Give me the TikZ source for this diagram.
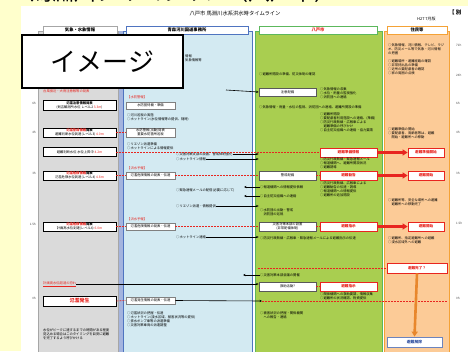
\documentclass[tikz,border=0pt]{standalone}
\usepackage{fontspec}
\setmainfont{Noto Sans CJK JP}
\usetikzlibrary{arrows.meta}
\definecolor{bgyel}{HTML}{FFFFCC}
\definecolor{gfill}{HTML}{DADADA}
\definecolor{gline}{HTML}{A6A6A6}
\definecolor{bfill}{HTML}{D3EAF2}
\definecolor{bline}{HTML}{4F74C0}
\definecolor{bstrip}{HTML}{A4B4DE}
\definecolor{grfill}{HTML}{A9CE50}
\definecolor{grline}{HTML}{5CB85C}
\definecolor{ofill}{HTML}{FCCB97}
\definecolor{oline}{HTML}{F4A236}
\definecolor{myred}{HTML}{E8251F}
\definecolor{myorange}{HTML}{E8872C}
\definecolor{myblue}{HTML}{2F4FA0}
\begin{document}
\begin{tikzpicture}[x=1pt,y=-1pt,
  tx/.style={font=\fontsize{3.3}{3.9}\selectfont, inner sep=0pt, anchor=west, align=left},
  rtx/.style={tx, text=myred},
  wbox/.style={draw=black, line width=0.6pt, fill=white, inner sep=0pt, font=\fontsize{3.3}{3.9}\selectfont, align=center, minimum height=9pt},
  gbox/.style={wbox, minimum width=73pt},
  bbox/.style={wbox, draw=gray, minimum width=49pt, minimum height=7pt},
  grbox/.style={wbox, draw=gray!70!black, line width=0.8pt, minimum width=57pt},
  rbox/.style={wbox, draw=myred, line width=0.8pt, minimum width=57pt, text=myred, font=\fontsize{3.6}{4.2}\selectfont\bfseries},
  headbox/.style={draw, fill=white, line width=0.6pt, inner sep=0pt, minimum height=8pt, font=\fontsize{4.3}{5}\selectfont\bfseries},
  rdash/.style={myred, line width=0.6pt, dash pattern=on 2pt off 1pt},
  barrow/.style={black, line width=0.6pt, -{Stealth[length=2.5pt,width=2.2pt]}},
  bigarrow/.style={myred, line width=2.4pt, -{Triangle[length=5pt,width=6pt]}},
  oarrow/.style={myorange, line width=2.6pt, -{Triangle[length=5pt,width=6pt]}},
  tlabel/.style={font=\fontsize{3}{3.5}\selectfont, text=gray!60!black, inner sep=0pt}
]
\useasboundingbox (0,0) rectangle (468,351);
\fill[bgyel] (0,0) rectangle (468,351);
\fill[white] (21,6) rectangle (468,351);
\begin{scope}
\clip (0,0) rectangle (468,5);
\node[anchor=base west, inner sep=0pt, font=\fontsize{22}{22}\selectfont] (toptitle) at (30,0.5) {馬淵川タイムライン（八戸市）};
\end{scope}

% title
\node[font=\fontsize{5.3}{6}\selectfont, inner sep=0pt] (title) at (235,13) {八戸市 馬淵川水系洪水時タイムライン};
\node[font=\fontsize{4}{5}\selectfont, inner sep=0pt, anchor=west] (ver) at (417,19) {H27 7月版};
\node[font=\fontsize{5.5}{6}\selectfont\bfseries, inner sep=0pt, anchor=west] (bet) at (449,12) {【\ 別};

% columns
\draw[fill=gfill, draw=gline, line width=0.8pt] (38,31) rectangle (118,352);
\fill[bstrip] (119,31) rectangle (123,352);
\draw[fill=bfill, draw=bline, line width=0.8pt] (123,31) rectangle (252,352);
\draw[fill=grfill, draw=grline, line width=0.8pt] (255,31) rectangle (382,352);
\draw[fill=ofill, draw=oline, line width=0.8pt] (384,31) rectangle (449,352);

\node[headbox, draw=gline, minimum width=74pt] (hg) at (80,30) {気象・水象情報};
\node[headbox, draw=bline, minimum width=122pt] (hb) at (187,30) {青森河川国道事務所};
\node[headbox, draw=grline, minimum width=118pt, text=myred] (hgr) at (318,30) {八戸市};
\node[headbox, draw=oline, minimum width=60pt] (ho) at (417,30) {住民等};

% time labels
\foreach \yy/\tt [count=\i] in {103/6h,132/4h,173/3h,224/1.5h,298/0h}
  \node[tlabel, anchor=east] (ll\i) at (36,\yy) {\tt};
\foreach \yy/\tt [count=\i] in {45/72h,75/24h,103/6h,132/4h,173/3h,223/1.5h,298/0h}
  \node[tlabel, anchor=west] (rl\i) at (456,\yy) {\tt};

% ---------- gray column ----------
\node[rtx] (gt1) at (43,91) {台風接近・大雨注意報等の発表};
\node[gbox, minimum height=10pt] (g1) at (79.5,105.5) {\textbf{氾濫注意情報発表}\\(剣吉観測所水位 レベル2 {\color{myred}3.3m})};
\node[gbox] (g2) at (79.5,132.5) {{\color{myred}\textbf{氾濫警戒情報}}\textbf{発表}\\避難判断水位到達(レベル3) {\color{myred}4.0m}};
\node[gbox] (g3) at (79.5,152) {避難判断水位 水位上昇中 {\color{myred}4.2m}};
\node[gbox] (g4) at (79.5,175.5) {{\color{myred}\textbf{氾濫危険情報}}\textbf{発表}\\氾濫危険水位到達(レベル4) {\color{myred}4.8m}};
\node[gbox] (g5) at (79.5,226.5) {{\color{myred}\textbf{氾濫危険情報}}\textbf{発表}\\計画高水位到達(レベル4) {\color{myred}6.0m}};
\node[rtx] (gt2) at (43,284) {\underline{計画高水位超過の恐れ}};
\node[gbox, minimum height=10pt, text=myred, font=\fontsize{5}{6}\selectfont\bfseries] (g6) at (79.5,301) {氾濫発生};
\node[tx] (gt3) at (43,334) {水位がピークに達するまでの時間がある程度\\見込める場合はこのタイミングを目安に避難\\を完了するよう呼びかける};

% ---------- blue column ----------
\node[tx] (bt0) at (185,58) {情報\\気象情報等};
\node[rtx] (bt1) at (127,97) {【水防警報】};
\node[bbox] (b1) at (150.5,105.5) {水防団待機・準備};
\node[tx] (bt2) at (127,117.5) {○河川巡視の実施\\○ホットライン(水位情報等の提供、随時)};
\node[bbox, minimum height=9pt] (b2) at (150.5,132.5) {水防警報(出動)発表\\重要水防箇所巡視};
\node[tx] (bt3) at (127,146.5) {○リエゾン派遣準備\\○ホットラインによる情報提供};
\node[tx] (bt4a) at (176,154) {○災害対策支部の設置、警戒体制強化};
\node[tx] (bt4b) at (176,159) {○ホットライン情報};
\node[rtx] (bt5) at (127,168) {【洪水予報】};
\node[bbox] (b3) at (150.5,175.5) {氾濫危険情報の発表・伝達};
\node[tx] (bt6) at (176,190) {○緊急速報メールの配信(必要に応じて)};
\node[tx] (bt7) at (176,206) {○リエゾン派遣・情報提供};
\node[rtx] (bt8) at (127,219) {【洪水予報】};
\node[bbox] (b4) at (150.5,226.5) {氾濫危険情報の発表・伝達};
\node[tx] (bt9) at (176,237) {○ホットライン連絡};
\node[bbox] (b5) at (150.5,300.5) {氾濫発生情報の発表・伝達};
\node[tx] (bt10) at (127,319) {○氾濫状況の把握・伝達\\○ホットライン(浸水区域、被害状況等の提供)\\○排水ポンプ車等の派遣準備\\○災害対策車両の派遣調整};

% ---------- green column ----------
\node[tx] (gr1) at (259,74) {○避難所開設の準備、防災体制の確認};
\node[grbox, minimum height=8pt] (gb1) at (287.5,92) {注意配備};
\node[tx] (gr2) at (320,93) {○気象情報の収集\\○水位・雨量の監視強化\\○消防団への連絡};
\node[tx] (gr3) at (259,107) {○気象情報・雨量・水位の監視、消防団への連絡、避難所開設の準備};
\node[tx] (gr4) at (320,122) {○避難所開設\\○要配慮者利用施設への連絡、(準備)\\○防災行政無線・広報車による\\\quad 避難準備の呼びかけ\\○自主防災組織への連絡・協力要請};
\node[rbox] (rb1) at (348.5,152.5) {避難準備情報};
\node[tx] (gr5) at (320,163) {○防災行政無線・緊急速報メール\\○報道機関へ、避難所開設状況\\○避難誘導};
\node[grbox] (gb2) at (287.5,175.5) {警戒配備};
\node[rbox] (rb2) at (348.5,175.5) {避難勧告};
\node[tx] (gr6) at (320,189) {○防災行政無線、広報車による\\○避難勧告の伝達・誘導\\○報道機関への情報提供\\○避難所の追加開設};
\node[tx] (gr7) at (260,187) {○報道機関への情報提供依頼};
\node[tx] (gr8) at (260,196) {○自主防災組織への連絡};
\node[tx] (gr9) at (260,212.5) {○水防団の出動・警戒\\\quad 消防団の巡視};
\node[grbox] (gb3) at (287.5,226.5) {災害対策本部の設置\\(非常配備体制)};
\node[rbox] (rb3) at (348.5,226.5) {避難指示};
\node[tx] (gr10) at (260,238) {○防災行政無線・広報車・緊急速報メールによる避難指示の伝達};
\node[tx] (gr11) at (260,275) {○災害対策本部会議の開催};
\node[grbox] (gb4) at (287.5,286.5) {救助活動?};
\node[rbox] (rb4) at (348.5,286.5) {避難指示};
\node[tx] (gr12) at (320,296.5) {○関係機関への救助要請、情報収集\\○避難所の状況確認、物資提供};
\node[tx] (gr13) at (260,315) {○被害状況の把握・関係機関\\\quad への報告・連絡};

% ---------- orange column ----------
\node[tx] (o1) at (388,49) {○気象情報、河川情報、テレビ、ラジ\\オ、防災メール等で気象・河川情報\\の把握};
\node[tx] (o2) at (388,67.5) {○避難場所・避難経路の確認\\○非常持出品の準備\\○近所の要配慮者の確認\\○家の周囲の点検};
\node[tx] (o3) at (388,133.5) {○避難準備の開始\\○要配慮者、高齢者等は、避難\\\quad 開始・避難所への移動};
\node[rbox, minimum width=36pt] (ob1) at (426,152.5) {避難準備開始};
\node[rbox, minimum width=36pt] (ob2) at (426,175.5) {避難開始};
\node[tx] (o4) at (388,202) {○避難所等、安全な場所への避難\\\quad 避難所への移動完了};
\node[rbox, minimum width=36pt] (ob3) at (426,226.5) {避難開始};
\node[tx] (o5) at (388,240.5) {○避難所、指定避難所への避難\\○浸水区域外への避難};
\node[rbox, minimum width=60pt, minimum height=10pt] (ob4) at (417,268) {避難完了？};
\node[wbox, draw=myblue!70, line width=0.8pt, minimum width=55pt, minimum height=10pt, text=myblue, font=\fontsize{3.8}{4.5}\selectfont\bfseries] (ob5) at (414.5,342) {避難解除};

% ---------- big image label ----------
\node[draw=black, line width=2pt, fill=white, minimum width=161pt, minimum height=53pt, inner sep=0pt, font=\fontsize{26}{28}\selectfont] (img) at (102.5,61.5) {イメージ};

% ---------- connectors ----------
\coordinate (c90) at (226,90);
\draw[barrow] (c90) -- (gb1.west);
\draw[rdash] (g2.east) -- (b2.west);
\draw[rdash] (g3.east) -- (g3.east -| rb1.west);
\draw[barrow] (bt4a.east) -- (bt4a.east -| gb2.west);
\draw[barrow] (bt4b.east) -- (bt4b.east -| gb2.west);
\draw[rdash] (g4.east) -- (b3.west);
\draw[rdash] (b3.east) -- (gb2.west);
\draw[rdash] (gb2.east) -- (rb2.west);
\coordinate (l187) at (244,187);
\coordinate (l196) at (244,196);
\draw[barrow] (gr7.west) -- (l187);
\draw[barrow] (gr8.west) -- (l196);
\draw[barrow] (bt7.east) -- (bt7.east -| gb2.west);
\draw[rdash] (g5.east) -- (b4.west);
\draw[rdash] (b4.east) -- (gb3.west);
\draw[rdash] (gb3.east) -- (rb3.west);
\draw[barrow] (bt9.east) -- (bt9.east -| gb3.west);
\coordinate (d268) at (258,268);
\draw[rdash] (d268) -- (ob4.west);
\coordinate (l275) at (243,275);
\draw[barrow] (gr11.west) -- (l275);
\draw[barrow] (gt2.east) -- (gt2.east -| gb4.west);
\draw[rdash] (gb4.east) -- (rb4.west);
\draw[rdash] (g6.east) -- (b5.west);
\coordinate (e301) at (262,301);
\coordinate (f301) at (447,301);
\draw[barrow] (b5.east) -- (e301);
\draw[rdash] (e301) -- (f301);
\draw[bigarrow] (rb1.east) -- (ob1.west);
\draw[bigarrow] (rb2.east) -- (ob2.west);
\draw[bigarrow] (rb3.east) -- (ob3.west);
\draw[oarrow] (ob4.south) -- (ob5.north);
\end{tikzpicture}
\end{document}
